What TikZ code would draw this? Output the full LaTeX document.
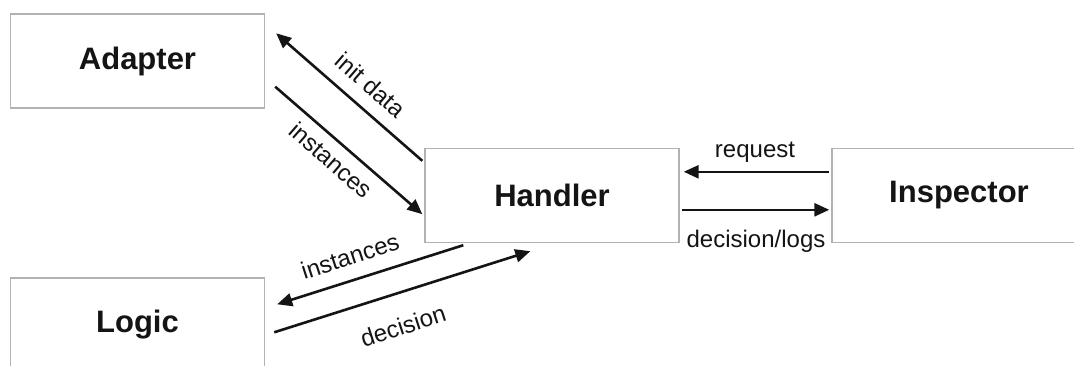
\documentclass[tikz,border=0pt]{standalone}
\usepackage{fontspec}
\setmainfont{Liberation Sans}
\usetikzlibrary{arrows.meta,calc}
\definecolor{boxgray}{RGB}{178,178,178}
\definecolor{ink}{RGB}{20,20,20}
\begin{document}
\begin{tikzpicture}[x=1pt,y=-1pt,
  box/.style={draw=boxgray, line width=1.4pt, fill=white,
    minimum width=254pt, minimum height=94pt, inner sep=0pt,
    font=\fontsize{31}{36}\selectfont\bfseries, text=ink},
  flow/.style={draw=ink, line width=2.6pt, -{Triangle[length=15pt,width=13pt]}},
  lbl/.style={font=\fontsize{24}{28}\selectfont, text=ink, inner sep=0pt}]

  % canvas
  \clip (0,0) rectangle (1074,365);
  \fill[white] (0,0) rectangle (1074,365);

  % components
  \node[box] (adapter)   at (137.5,61)  {Adapter};
  \node[box] (handler)   at (552,195.5) {Handler};
  \node[box] (inspector) at (959,195.5) {Inspector};
  \node[box] (logic)     at (137.5,325) {Logic};

  % connector end points
  \coordinate (initS)  at ($(handler.north west)+(-2,13)$);
  \coordinate (initE)  at ($(adapter.north east)+(11,20)$);
  \coordinate (instS)  at ($(adapter.south east)+(10,-22)$);
  \coordinate (instE)  at ($(handler.south west)+(-2,-29)$);
  \coordinate (reqS)   at ($(inspector.north west)+(-2,24)$);
  \coordinate (reqE)   at ($(handler.north east)+(4,24)$);
  \coordinate (logS)   at ($(handler.north east)+(2,62)$);
  \coordinate (logE)   at ($(inspector.north west)+(-2,62)$);
  \coordinate (inst2S) at ($(handler.south west)+(39,2)$);
  \coordinate (inst2E) at ($(logic.north east)+(12,27)$);
  \coordinate (decS)   at ($(logic.north east)+(9,55)$);
  \coordinate (decE)   at ($(handler.south west)+(106,8)$);

  % data flows
  \draw[flow] (initS)  -- (initE);
  \draw[flow] (instS)  -- (instE);
  \draw[flow] (reqS)   -- (reqE);
  \draw[flow] (logS)   -- (logE);
  \draw[flow] (inst2S) -- (inst2E);
  \draw[flow] (decS)   -- (decE);

  % flow labels
  \node[lbl, rotate=-41] (initLbl)  at (371,85)  {init data};
  \node[lbl, rotate=-41] (instLbl)  at (331,160) {instances};
  \node[lbl, rotate=18]  (inst2Lbl) at (350,256) {instances};
  \node[lbl, rotate=18]  (decLbl)   at (403,326) {decision};
  \node[lbl, anchor=base] (reqLbl)  at (755,157) {request};
  \node[lbl, anchor=base] (logLbl)  at (756,247) {decision/logs};
\end{tikzpicture}
\end{document}
